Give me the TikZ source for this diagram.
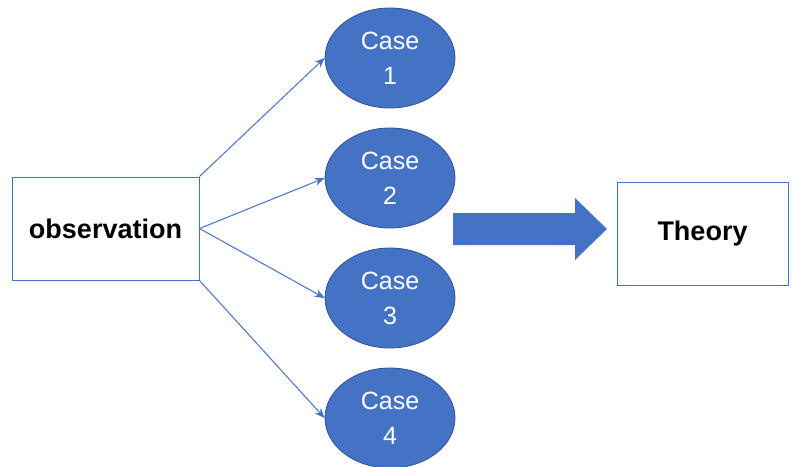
\documentclass[tikz,border=0pt]{standalone}
\usepackage{fontspec}
\setmainfont{Liberation Sans}
\usetikzlibrary{arrows.meta,shapes.geometric}
\definecolor{ofblue}{HTML}{4472C4}
\definecolor{ofdark}{HTML}{2F528F}
\tikzset{
  boxst/.style={draw=ofblue, line width=1pt, fill=white, inner sep=0pt,
    font=\bfseries\fontsize{27}{32}\selectfont, text=black},
  casest/.style={ellipse, draw=ofdark, line width=0.8pt, fill=ofblue, inner sep=0pt,
    minimum width=130, minimum height=100, align=center, text=white,
    font=\fontsize{25}{35}\selectfont},
  conn/.style={draw=ofblue, line width=1pt, -{Stealth[length=10pt,width=8pt]}},
  bigarrow/.style={fill=ofblue, draw=none}
}
\begin{document}
\begin{tikzpicture}[x=1pt,y=-1pt]
\useasboundingbox (0,0) rectangle (792,466);
\node[boxst, minimum width=187, minimum height=103] (obs) at (105.5,228.5) {observation};
\node[casest] (c1) at (390,58) {Case\\1};
\node[casest] (c2) at (390,178) {Case\\2};
\node[casest] (c3) at (390,298) {Case\\3};
\node[casest] (c4) at (390,418) {Case\\4};
\node[boxst, minimum width=171, minimum height=103] (th) at (702.5,233.5) {Theory};
\draw[conn] (obs.north east) -- (c1.west);
\draw[conn] (obs.east) -- (c2.west);
\draw[conn] (obs.east) -- (c3.west);
\draw[conn] (obs.south east) -- (c4.west);
\path[bigarrow] (453,213) -- (575,213) -- (575,198) -- (607,229) -- (575,260) -- (575,245) -- (453,245) -- cycle;
\end{tikzpicture}
\end{document}
